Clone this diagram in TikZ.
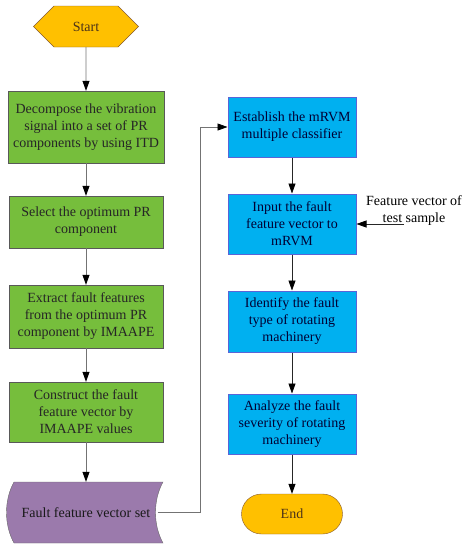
\documentclass[tikz,border=0pt]{standalone}
\usepackage{fontspec}
\setmainfont{Liberation Serif}
\usetikzlibrary{arrows.meta,shapes.symbols}
\definecolor{startorange}{RGB}{255,192,0}
\definecolor{stepgreen}{RGB}{118,190,60}
\definecolor{stepblue}{RGB}{0,176,240}
\definecolor{blueedge}{RGB}{90,100,215}
\definecolor{storepurple}{RGB}{155,122,172}

\begin{document}
\begin{tikzpicture}[x=1pt, y=-1pt,
    every node/.style={font=\fontsize{14}{17}\selectfont, align=center},
    gbox/.style={draw=black!65, fill=stepgreen, minimum width=154, text=black!85},
    bbox/.style={draw=blueedge, line width=1pt, fill=stepblue, minimum width=128, text=black!80!blue},
    term/.style={draw=brown!70!black, fill=startorange, text=brown!40!black},
    arrow/.style={-{Triangle[length=10pt,width=7pt]}, line width=0.8pt, draw=black!55, arrows={[color=black]}},
    barrow/.style={arrow, draw=black!85}
]
\useasboundingbox (0,0) rectangle (471,550);

% left column
\node[term, signal, signal to=east and west, signal pointer angle=90,
      minimum width=105, minimum height=41] (start) at (86,26.5) {Start};
\node[gbox, minimum width=156, minimum height=72] (decomp) at (86,127) {Decompose the vibration\\signal into a set of PR\\components by using ITD};
\node[gbox, minimum height=52] (select) at (86,222) {Select the optimum PR\\component};
\node[gbox, minimum height=63] (extract) at (86,316.5) {Extract fault features\\from the optimum PR\\component by IMAAPE};
\node[gbox, minimum height=60] (construct) at (86,412) {Construct the fault\\feature vector by\\IMAAPE values};

% stored data shape
\draw[draw=black!60, fill=storepurple] (14,482) -- (163,482)
    .. controls (153,500) and (153,525) .. (163,543) -- (14,543)
    .. controls (4,525) and (4,500) .. (14,482) -- cycle;
\node[minimum width=143, minimum height=61, text=black!90] (vecset) at (86,512.5) {Fault feature vector set};

% right column
\node[bbox, minimum height=60] (establish) at (292,127) {Establish the mRVM\\multiple classifier};
\node[bbox, minimum height=60] (input) at (292,224) {Input the fault\\feature vector to\\mRVM};
\node[bbox, minimum height=61] (identify) at (292,321.5) {Identify the fault\\type of rotating\\machinery};
\node[bbox, minimum height=60] (analyze) at (292,424) {Analyze the fault\\severity of rotating\\machinery};
\node[term, rounded corners=20, minimum width=101, minimum height=40] (stop) at (292,514) {End};

\node (testlbl) at (414,211) {Feature vector of\\test sample};
\coordinate (testin) at (404,224);

\draw[arrow] (start) -- (decomp);
\draw[arrow] (decomp) -- (select);
\draw[arrow] (select) -- (extract);
\draw[arrow] (extract) -- (construct);
\draw[arrow] (construct) -- (vecset);
\draw[arrow] (vecset.east) -- ++(43,0) |- (establish);

\draw[barrow] (establish) -- (input);
\draw[barrow] (input) -- (identify);
\draw[barrow] (identify) -- (analyze);
\draw[barrow] (analyze) -- (stop);
\draw[barrow] (testin) -- (input);
\end{tikzpicture}
\end{document}
